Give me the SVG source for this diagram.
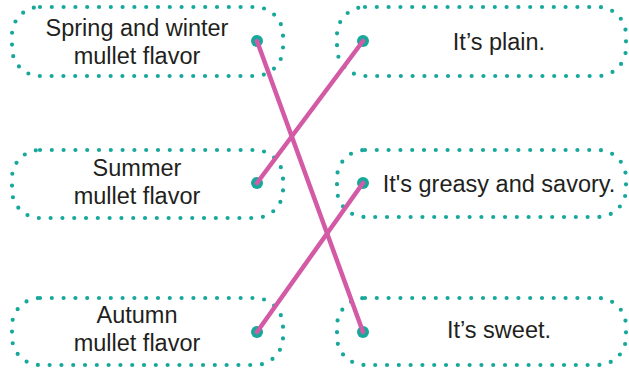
<svg xmlns="http://www.w3.org/2000/svg" width="629" height="368" viewBox="0 0 629 368">
<style>
.box{fill:#fff;stroke:#17a89c;stroke-width:4.2;stroke-linecap:round;stroke-dasharray:0 11.8}
.t{font-family:"Liberation Sans",Arial,sans-serif;font-size:23.5px;fill:#231f20;text-anchor:middle}
.pt{fill:#17a89c}
.ln{stroke:#d35aa5;stroke-width:4.5;stroke-linecap:round;fill:none}
</style>
<rect width="629" height="368" fill="#fff"/>
<g id="left1"><rect class="box" x="12" y="7" width="271" height="69" rx="28"/>
<text class="t" x="137" y="36">Spring and winter</text><text class="t" x="137" y="64">mullet flavor</text>
<circle class="pt" cx="257" cy="41" r="6"/></g>
<g id="left2"><rect class="box" x="12" y="150" width="271" height="68" rx="28"/>
<text class="t" x="137" y="176">Summer</text><text class="t" x="137" y="204">mullet flavor</text>
<circle class="pt" cx="257" cy="183" r="6"/></g>
<g id="left3"><rect class="box" x="12" y="298" width="271" height="67" rx="28"/>
<text class="t" x="137" y="323">Autumn</text><text class="t" x="137" y="351">mullet flavor</text>
<circle class="pt" cx="257" cy="332" r="6"/></g>
<g id="right1"><rect class="box" x="337" y="7" width="289" height="69" rx="28"/>
<text class="t" x="499" y="50">It’s plain.</text>
<circle class="pt" cx="363" cy="41" r="6"/></g>
<g id="right2"><rect class="box" x="337" y="150" width="289" height="67" rx="28"/>
<text class="t" x="499" y="192">It's greasy and savory.</text>
<circle class="pt" cx="363" cy="183" r="6"/></g>
<g id="right3"><rect class="box" x="337" y="298" width="289" height="67" rx="28"/>
<text class="t" x="499" y="338">It’s sweet.</text>
<circle class="pt" cx="363" cy="332" r="6"/></g>
<g id="connectors">
<line class="ln" x1="257" y1="41" x2="363" y2="332"/>
<line class="ln" x1="363" y1="41" x2="257" y2="183"/>
<line class="ln" x1="363" y1="183" x2="257" y2="332"/>
</g>
</svg>
